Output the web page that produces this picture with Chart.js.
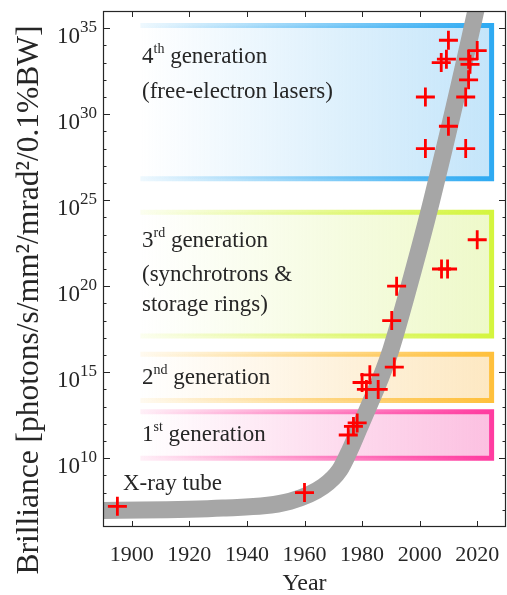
<!DOCTYPE html>
<html>
<head>
<meta charset="utf-8">
<script src="https://cdn.jsdelivr.net/npm/chart.js@4/dist/chart.umd.min.js"></script>
<style>
  html, body { margin: 0; padding: 0; background: #ffffff; overflow: hidden; }
  #chart { display: block; }
</style>
</head>
<body>
<canvas id="chart" width="507" height="595"></canvas>
<script>
// ---- data -------------------------------------------------------------
// individual light sources: year and log10 of peak brilliance
const sourceYears = [1895, 1960,
  1975.2, 1977, 1978.3,
  1980, 1981.5, 1982.7, 1985.6, 1991.2,
  1990.3, 1992, 2007.6, 2009.7, 2020,
  2002, 2016, 2002, 2016, 2010, 2010, 2007.5, 2009.3, 2017, 2017.5, 2020, 2017];
const sourceExponents = [7.2, 8.0,
  11.35, 11.85, 12.05,
  14.4, 14.0, 14.85, 14.0, 15.3,
  18.0, 20.0, 21.0, 21.0, 22.7,
  28.0, 28.0, 31.0, 31.0, 29.3, 34.3, 33.0, 33.2, 33.2, 32.9, 33.7, 32.0];

// overall trend band
const trendYears = [1890, 1931.7, 1955, 1966.5, 1972.3, 1975.8, 1979.3, 1983.3, 1986.2, 1990, 1995, 2004.2, 2019.5, 2022.5];
const trendExponents = [6.96, 7.1, 7.5, 8.36, 9.33, 10.49, 11.85, 13.4, 14.56, 16.3, 19.2, 25.0, 36.0, 38.4];

// generation ranges (log10 brilliance) and the years they span
const generationNames = ['1st', '2nd', '3rd', '4th'];
const generationRanges = [[10.0, 12.7], [13.35, 16.05], [17.1, 24.3], [26.25, 35.15]];
const generationYearSpan = [1903, 2025];

// axis ticks
const xTickYears = [1900, 1920, 1940, 1960, 1980, 2000, 2020];
const yTickExponents = [10, 15, 20, 25, 30, 35];
const yMinorExponents = [7, 8, 9, 10, 11, 12, 13, 14, 15, 16, 17, 18, 19, 20, 21, 22, 23, 24, 25, 26, 27, 28, 29, 30, 31, 32, 33, 34, 35];

// ---- styling ----------------------------------------------------------
const FONT = '"Liberation Serif", "Times New Roman", serif';
const INK = '#262626';
const generationStyles = [
  { edge: [255, 60, 160], fill: [252, 192, 225] },
  { edge: [255, 192, 60], fill: [253, 232, 194] },
  { edge: [212, 245, 62], fill: [238, 249, 201] },
  { edge: [46, 170, 242], fill: [196, 229, 250] }
];
const rgba = (c, a) => `rgba(${c[0]},${c[1]},${c[2]},${a})`;

// text with a superscript part: base, sup, rest
function supText(ctx, x, y, base, sup, rest, size, supSize, rise) {
  ctx.font = `${size}px ${FONT}`;
  ctx.fillText(base, x, y);
  x += ctx.measureText(base).width;
  ctx.font = `${supSize}px ${FONT}`;
  ctx.fillText(sup, x, y - rise);
  x += ctx.measureText(sup).width;
  if (rest) {
    ctx.font = `${size}px ${FONT}`;
    ctx.fillText(rest, x, y);
  }
}

const backdrop = {
  id: 'backdrop',
  beforeDatasetsDraw(chart) {
    const { ctx, chartArea: ca, scales: { x, y } } = chart;
    ctx.save();
    // generation boxes: fading fill and edges, solid right edge
    const x0 = x.getPixelForValue(generationYearSpan[0]);
    const x1 = x.getPixelForValue(generationYearSpan[1]);
    generationRanges.forEach((r, i) => {
      const st = generationStyles[i];
      const yTop = y.getPixelForValue(10 ** r[1]);
      const yBot = y.getPixelForValue(10 ** r[0]);
      const fg = ctx.createLinearGradient(x0, 0, x1, 0);
      fg.addColorStop(0, rgba(st.fill, 0));
      fg.addColorStop(1, rgba(st.fill, 1));
      ctx.fillStyle = fg;
      ctx.fillRect(x0, yTop, x1 - x0, yBot - yTop);
      const sg = ctx.createLinearGradient(x0, 0, x1, 0);
      sg.addColorStop(0, rgba(st.edge, 0.08));
      sg.addColorStop(0.5, rgba(st.edge, 0.55));
      sg.addColorStop(1, rgba(st.edge, 1));
      ctx.strokeStyle = sg;
      ctx.lineWidth = 5;
      ctx.lineJoin = 'miter';
      ctx.beginPath();
      ctx.moveTo(x0, yTop);
      ctx.lineTo(x1, yTop);
      ctx.lineTo(x1, yBot);
      ctx.lineTo(x0, yBot);
      ctx.stroke();
    });

    // box captions
    ctx.fillStyle = INK;
    ctx.textAlign = 'left';
    ctx.textBaseline = 'alphabetic';
    const tx = 142, fs = 23, ss = 14, rise = 10;
    supText(ctx, tx, 63, '4', 'th', ' generation', fs, ss, rise);
    ctx.font = `${fs}px ${FONT}`;
    ctx.fillText('(free-electron lasers)', tx, 98);
    supText(ctx, tx, 247, '3', 'rd', ' generation', fs, ss, rise);
    ctx.font = `${fs}px ${FONT}`;
    ctx.fillText('(synchrotrons &', tx, 281);
    ctx.fillText('storage rings)', tx, 311);
    supText(ctx, tx, 384, '2', 'nd', ' generation', fs, ss, rise);
    supText(ctx, tx, 441, '1', 'st', ' generation', fs, ss, rise);
    ctx.font = `${fs}px ${FONT}`;
    ctx.fillText('X-ray tube', 123, 490);

    // ticks (inward, on all four sides)
    ctx.strokeStyle = INK;
    ctx.lineWidth = 1;
    ctx.beginPath();
    xTickYears.forEach(v => {
      const px = Math.round(x.getPixelForValue(v)) + 0.5;
      ctx.moveTo(px, ca.bottom); ctx.lineTo(px, ca.bottom - 6);
      ctx.moveTo(px, ca.top); ctx.lineTo(px, ca.top + 6);
    });
    yMinorExponents.forEach(e => {
      const py = Math.round(y.getPixelForValue(10 ** e)) + 0.5;
      const len = yTickExponents.includes(e) ? 7 : 3.5;
      ctx.moveTo(ca.left, py); ctx.lineTo(ca.left + len, py);
      ctx.moveTo(ca.right, py); ctx.lineTo(ca.right - len, py);
    });
    ctx.stroke();

    // tick labels
    ctx.fillStyle = INK;
    ctx.textAlign = 'center';
    ctx.font = `22px ${FONT}`;
    xTickYears.forEach(v => ctx.fillText(String(v), x.getPixelForValue(v), 561));
    ctx.textAlign = 'left';
    yTickExponents.forEach(e => {
      const py = y.getPixelForValue(10 ** e);
      ctx.font = `23px ${FONT}`;
      const wb = ctx.measureText('10').width;
      ctx.font = `17px ${FONT}`;
      const we = ctx.measureText(String(e)).width;
      supText(ctx, 97 - wb - we, py + 15, '10', String(e), '', 23, 17, 11);
    });

    // axis titles
    ctx.font = `24px ${FONT}`;
    ctx.textAlign = 'center';
    ctx.fillText('Year', (ca.left + ca.right) / 2, 590);
    ctx.save();
    ctx.translate(38, 300);
    ctx.rotate(-Math.PI / 2);
    ctx.font = `31.5px ${FONT}`;
    ctx.fillText('Brilliance [photons/s/mm\u00B2/mrad\u00B2/0.1%BW]', 0, 0);
    ctx.restore();
    ctx.restore();
  },
  afterDatasetsDraw(chart) {
    const { ctx, chartArea: ca } = chart;
    ctx.save();
    ctx.strokeStyle = INK;
    ctx.lineWidth = 1.2;
    ctx.strokeRect(ca.left + 0.5, ca.top + 0.5, ca.right - ca.left - 1, ca.bottom - ca.top - 1);
    ctx.restore();
  }
};

new Chart(document.getElementById('chart'), {
  type: 'scatter',
  data: {
    datasets: [
      {
        label: 'trend',
        data: trendYears.map((t, i) => ({ x: t, y: 10 ** trendExponents[i] })),
        showLine: true,
        borderColor: '#a6a6a6',
        borderWidth: 17,
        borderCapStyle: 'butt',
        pointRadius: 0,
        cubicInterpolationMode: 'monotone',
        clip: 0,
        order: 2
      },
      {
        label: 'sources',
        data: sourceYears.map((t, i) => ({ x: t, y: 10 ** sourceExponents[i] })),
        showLine: false,
        pointStyle: 'cross',
        pointRadius: 9.5,
        pointBorderWidth: 2.8,
        borderColor: '#ff0000',
        backgroundColor: '#ff0000',
        clip: false,
        order: 1
      }
    ]
  },
  options: {
    responsive: false,
    maintainAspectRatio: false,
    animation: false,
    devicePixelRatio: 1,
    layout: { autoPadding: false, padding: { left: 103, right: 1, top: 11, bottom: 68 } },
    plugins: { legend: { display: false }, tooltip: { enabled: false } },
    scales: {
      x: { type: 'linear', min: 1890, max: 2030, display: false },
      y: { type: 'logarithmic', min: 1e6, max: 1e36, display: false }
    }
  },
  plugins: [backdrop]
});
</script>
</body>
</html>
